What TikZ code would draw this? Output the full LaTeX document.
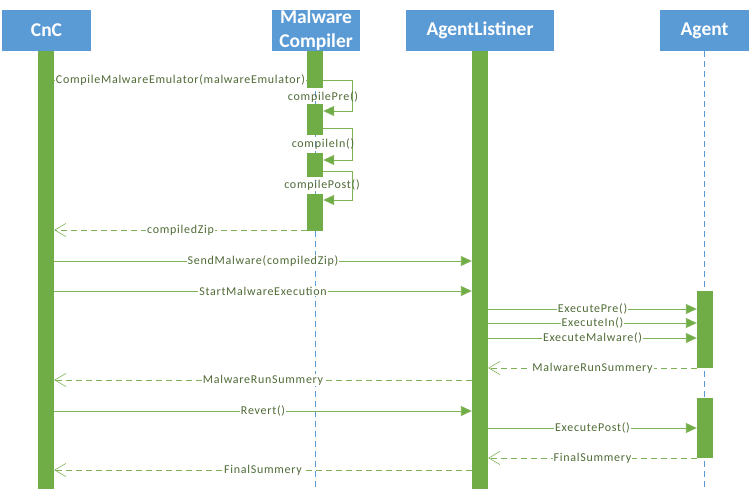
\documentclass[tikz,border=0pt]{standalone}
\usepackage{fontspec}
\setmainfont{Carlito}
\usetikzlibrary{arrows.meta}
\definecolor{hdr}{HTML}{5B9BD5}
\definecolor{grn}{HTML}{70AD47}
\definecolor{lnc}{HTML}{7DB356}
\definecolor{txc}{HTML}{4F6B36}
\tikzset{
  hdrbox/.style={rectangle, fill=hdr, text=white, inner sep=0pt, minimum height=41pt,
    font=\fontsize{19.5}{24}\selectfont\bfseries, align=center},
  actbar/.style={rectangle, fill=grn, inner sep=0pt, minimum width=16pt, anchor=north},
  lifeln/.style={draw=hdr, line width=0.7pt, dash pattern=on 6pt off 4pt},
  msg/.style={draw=lnc, line width=0.9pt, -{Triangle[length=11pt,width=10pt,fill=grn]}},
  plain/.style={draw=lnc, line width=0.9pt},
  ret/.style={draw=lnc, line width=0.9pt, dash pattern=on 6pt off 4pt,
    -{Straight Barb[length=11pt,width=13pt,line width=0.6pt]}},
  lbl/.style={fill=white, text=txc, inner sep=1pt,
    font=\fontsize{12}{14}\selectfont\addfontfeature{LetterSpace=6}},
  slbl/.style={text=txc, inner sep=1pt,
    font=\fontsize{12}{14}\selectfont\addfontfeature{LetterSpace=6}}
}
\begin{document}
\begin{tikzpicture}[x=1pt,y=-1pt]
\useasboundingbox[fill=white] (0,0) rectangle (751,489);
% headers
\node[hdrbox, minimum width=89pt] (cnc) at (46.5,30.5) {CnC};
\node[hdrbox, minimum width=88pt] (mc) at (316,30.5) {Malware\\Compiler};
\node[hdrbox, minimum width=148pt] (al) at (480,30.5) {AgentListiner};
\node[hdrbox, minimum width=89pt] (ag) at (704.5,30.5) {Agent};
% lifelines
\coordinate (mcend) at (315,489);
\coordinate (agend) at (704.5,489);
\draw[lifeln] (mc.south -| mcend) -- (mcend);
\draw[lifeln] (ag.south -| agend) -- (agend);
% messages (drawn before bars)
\draw[plain] (54,80) coordinate (m1s) -- node[lbl]{CompileMalwareEmulator(malwareEmulator)} (307,80) coordinate (m1e);
% activation bars
\node[actbar, minimum height=438pt] (cncbar) at (46,51) {};
\node[actbar, minimum height=438pt] (albar) at (480,51) {};
\node[actbar, minimum height=37pt] (mcb1) at (315,51) {};
\node[actbar, minimum height=31pt] (mcb2) at (315,104) {};
\node[actbar, minimum height=24pt] (mcb3) at (315,153) {};
\node[actbar, minimum height=37pt] (mcb4) at (315,194) {};
\node[actbar, minimum height=77pt] (agb1) at (705,291) {};
\node[actbar, minimum height=60pt] (agb2) at (705,398) {};
% self calls
\draw[msg] (mcb1.east |- 0,80) -- (352,80) coordinate (s1) -- (s1 |- 0,111) -- (mcb2.east |- 0,111);
\node[slbl] (l1) at (323,97) {compilePre()};
\draw[msg] (mcb2.east |- 0,128) -- (352,128) coordinate (s2) -- (s2 |- 0,160) -- (mcb3.east |- 0,160);
\node[slbl] (l2) at (323,144) {compileIn()};
\draw[msg] (mcb3.east |- 0,171) -- (352,171) coordinate (s3) -- (s3 |- 0,200) -- (mcb4.east |- 0,200);
\node[slbl] (l3) at (322,185) {compilePost()};
% returns and calls
\draw[ret] (mcb4.west |- 0,230) -- node[lbl]{compiledZip} (cncbar.east |- 0,230);
\draw[msg] (cncbar.east |- 0,261) -- node[lbl]{SendMalware(compiledZip)} (albar.west |- 0,261);
\draw[msg] (cncbar.east |- 0,291) -- node[lbl]{StartMalwareExecution} (albar.west |- 0,291);
\draw[msg] (albar.east |- 0,309) -- node[lbl]{ExecutePre()} (agb1.west |- 0,309);
\draw[msg] (albar.east |- 0,323) -- node[lbl]{ExecuteIn()} (agb1.west |- 0,323);
\draw[msg] (albar.east |- 0,338) -- node[lbl]{ExecuteMalware()} (agb1.west |- 0,338);
\draw[ret] (agb1.west |- 0,368) -- node[lbl]{MalwareRunSummery} (albar.east |- 0,368);
\draw[ret] (albar.west |- 0,380) -- node[lbl]{MalwareRunSummery} (cncbar.east |- 0,380);
\draw[msg] (cncbar.east |- 0,411) -- node[lbl]{Revert()} (albar.west |- 0,411);
\draw[msg] (albar.east |- 0,428) -- node[lbl]{ExecutePost()} (agb2.west |- 0,428);
\draw[ret] (agb2.west |- 0,458) -- node[lbl]{FinalSummery} (albar.east |- 0,458);
\draw[ret] (albar.west |- 0,470) -- node[lbl]{FinalSummery} (cncbar.east |- 0,470);
\end{tikzpicture}
\end{document}
